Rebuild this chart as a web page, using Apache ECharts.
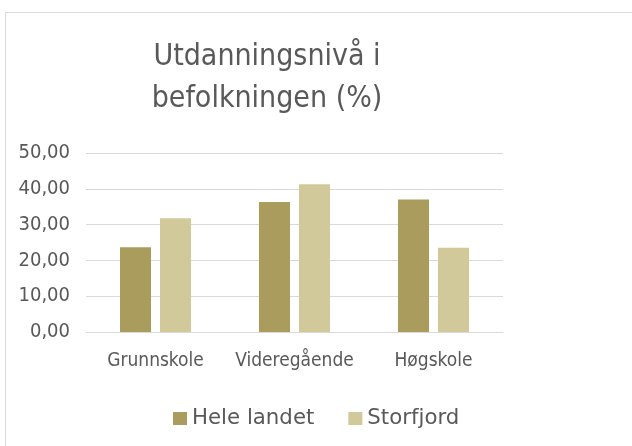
<!DOCTYPE html>
<html><head><meta charset="utf-8">
<script src="https://cdn.jsdelivr.net/npm/echarts@6/dist/echarts.min.js"></script>
<style>html,body{margin:0;padding:0;background:#fff}#c{width:632px;height:446px}</style>
</head><body><div id="c"></div>
<script>
const categories = ['Grunnskole', 'Videregående', 'Høgskole'];
const heleLandet = [23.7, 36.3, 37.0];
const storfjord = [31.8, 41.3, 23.5];
const seriesNames = ['Hele landet', 'Storfjord'];
const titleText = 'Utdanningsnivå i\nbefolkningen (%)';

const font = '"DejaVu Sans Condensed", "DejaVu Sans", sans-serif';
const chart = echarts.init(document.getElementById('c'));
chart.setOption({
  animation: false,
  backgroundColor: '#fff',
  graphic: [{type: 'rect', shape: {x: 5.5, y: 12.5, width: 700, height: 500}, style: {fill: 'none', stroke: '#d9d9d9', lineWidth: 1}, z: -1}],
  title: {
    text: titleText, left: 262, textAlign: 'center', top: 31,
    textStyle: {fontFamily: font, fontSize: 30, fontWeight: 'normal', color: '#595959', lineHeight: 42}
  },
  legend: {
    data: seriesNames, left: 168, top: 403, icon: 'rect', itemWidth: 14, itemHeight: 13, itemGap: 34,
    textStyle: {fontFamily: '"DejaVu Sans", sans-serif', fontSize: 21.3, color: '#595959', padding: [0, 0, 0, 0]}
  },
  grid: {left: 86, right: 129, top: 153, bottom: 114},
  xAxis: {
    type: 'category', data: categories,
    axisLine: {show: true, lineStyle: {color: '#d9d9d9'}}, axisTick: {show: false},
    axisLabel: {fontFamily: font, fontSize: 19, color: '#595959', margin: 20, interval: 0}
  },
  yAxis: {
    type: 'value', min: 0, max: 50, interval: 10,
    axisLine: {show: false}, axisTick: {show: false},
    splitLine: {lineStyle: {color: '#d9d9d9'}},
    axisLabel: {fontFamily: font, fontSize: 20, color: '#595959', margin: 16, formatter: v => v.toFixed(2).replace('.', ',')}
  },
  series: [
    {name: seriesNames[0], type: 'bar', data: heleLandet, barWidth: 31, barGap: '29%', itemStyle: {color: '#A99C5C'}},
    {name: seriesNames[1], type: 'bar', data: storfjord, barWidth: 31, itemStyle: {color: '#D2C99B'}}
  ]
});
</script></body></html>
